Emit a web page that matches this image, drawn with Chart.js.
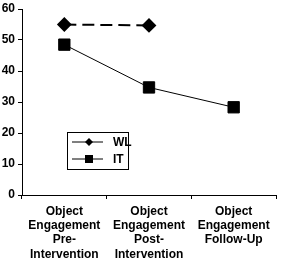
<!DOCTYPE html>
<html>
<head>
<meta charset="utf-8">
<script src="https://cdn.jsdelivr.net/npm/chart.js@4"></script>
<style>
  html, body { margin: 0; padding: 0; background: #fff; }
  #wrap { width: 285px; height: 262px; position: relative; }
</style>
</head>
<body>
<div id="wrap"><canvas id="chart"></canvas></div>
<script>
// dados
const categories = [
    ['Object', 'Engagement', 'Pre-', 'Intervention'],
    ['Object', 'Engagement', 'Post-', 'Intervention'],
    ['Object', 'Engagement', 'Follow-Up']
];
const wlValues = [55, 54.7, null];
const itValues = [48.5, 34.7, 28.3];
const yTicks = [0, 10, 20, 30, 40, 50, 60];

const tickFont = { family: 'Liberation Sans, Arial, sans-serif', size: 12, weight: 'bold', lineHeight: 1.2 };

// legenda desenhada dentro do gráfico, como no original
const boxLegend = {
    id: 'boxLegend',
    afterDraw(chart, args, opts) {
        const ctx = chart.ctx;
        ctx.save();
        ctx.strokeStyle = '#000';
        ctx.lineWidth = 1;
        ctx.strokeRect(opts.x + 0.5, opts.y + 0.5, opts.w, opts.h);
        chart.data.datasets.forEach((ds, i) => {
            const y = opts.y + 10 + i * 17;
            ctx.beginPath();
            ctx.lineWidth = 1;
            ctx.moveTo(opts.x + 5, y);
            ctx.lineTo(opts.x + 36, y);
            ctx.stroke();
            ctx.fillStyle = '#000';
            if (ds.pointStyle === 'rectRot') {
                ctx.beginPath();
                ctx.moveTo(opts.x + 22, y - 4);
                ctx.lineTo(opts.x + 26, y);
                ctx.lineTo(opts.x + 22, y + 4);
                ctx.lineTo(opts.x + 18, y);
                ctx.closePath();
                ctx.fill();
            } else {
                ctx.fillRect(opts.x + 18, y - 4, 8, 8);
            }
            ctx.font = 'bold 12px Liberation Sans, Arial, sans-serif';
            ctx.textBaseline = 'middle';
            ctx.fillText(ds.label, opts.x + 46, y + 1);
        });
        ctx.restore();
    }
};

document.addEventListener('DOMContentLoaded', () => {
    const ctx = document.getElementById('chart').getContext('2d');
    new Chart(ctx, {
        type: 'line',
        data: {
            labels: categories,
            datasets: [{
                label: 'WL',
                data: wlValues,
                borderColor: '#000',
                backgroundColor: '#000',
                borderWidth: 2,
                borderDash: [12, 6],
                pointStyle: 'rectRot',
                pointRadius: 6,
                tension: 0
            }, {
                label: 'IT',
                data: itValues,
                borderColor: '#000',
                backgroundColor: '#000',
                borderWidth: 1,
                pointStyle: 'rect',
                pointRadius: 8,
                tension: 0
            }]
        },
        options: {
            responsive: true,
            maintainAspectRatio: false,
            animation: false,
            layout: { padding: { top: 0, right: 2, left: 0, bottom: 0 } },
            plugins: {
                legend: { display: false },
                tooltip: { enabled: false },
                boxLegend: { x: 67, y: 132, w: 61, h: 37 }
            },
            scales: {
                x: {
                    offset: true,
                    afterFit: axis => { axis.height = 67; },
                    grid: { display: true, drawOnChartArea: false, offset: true, color: '#000', tickLength: 4 },
                    border: { color: '#000', width: 1 },
                    ticks: { color: '#000', font: tickFont, maxRotation: 0, autoSkip: false, padding: 5 }
                },
                y: {
                    min: 0,
                    max: 60,
                    afterBuildTicks: axis => { axis.ticks = yTicks.map(v => ({ value: v })); },
                    afterFit: axis => { axis.width = 22; axis.paddingTop = 7; },
                    grid: { display: true, drawOnChartArea: false, color: '#000', tickLength: 4 },
                    border: { color: '#000', width: 1 },
                    ticks: { color: '#000', font: tickFont, padding: 3 }
                }
            }
        },
        plugins: [boxLegend]
    });
});
</script>
</body>
</html>
